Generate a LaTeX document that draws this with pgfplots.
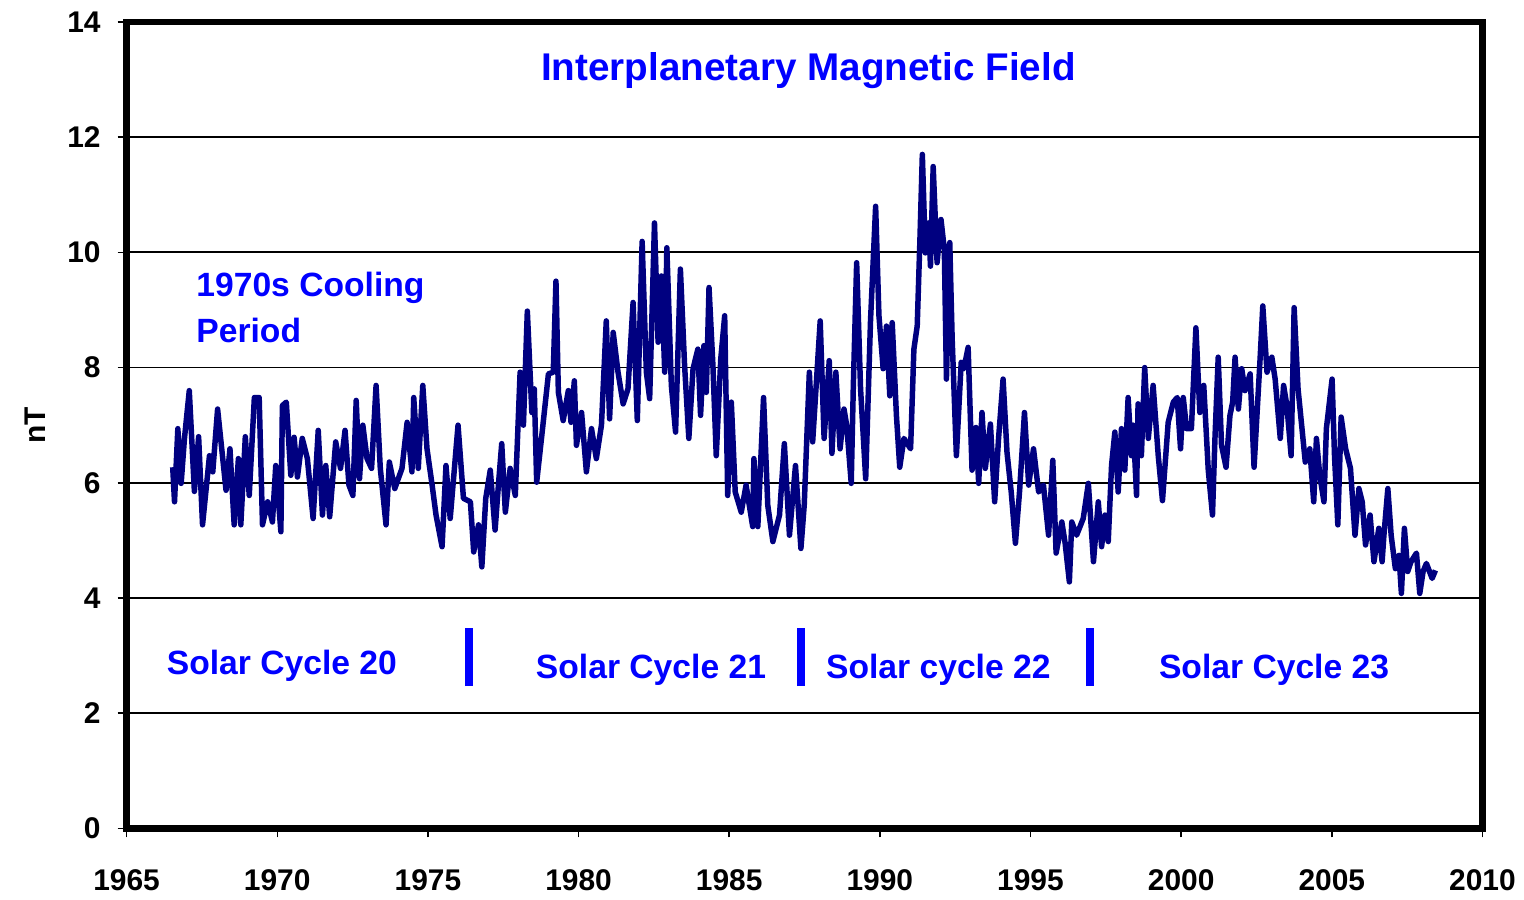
\documentclass[border=0pt]{standalone}
\usepackage{fontspec}
\setmainfont{Liberation Sans}
\usepackage{pgfplots}
\pgfplotsset{compat=1.18}
\definecolor{imfnavy}{RGB}{0,0,128}
\definecolor{imfblue}{RGB}{0,0,255}

\pgfplotstableread{
year imf
1966.53 6.27
1966.59 5.67
1966.70 6.94
1966.81 5.99
1966.92 6.77
1967.08 7.60
1967.25 5.85
1967.39 6.80
1967.52 5.27
1967.75 6.47
1967.86 6.19
1968.02 7.28
1968.30 5.87
1968.43 6.59
1968.57 5.27
1968.71 6.42
1968.79 5.27
1968.94 6.80
1969.07 5.78
1969.24 7.48
1969.40 7.48
1969.51 5.27
1969.68 5.67
1969.84 5.32
1969.95 6.30
1970.12 5.15
1970.17 7.34
1970.30 7.40
1970.45 6.13
1970.56 6.79
1970.67 6.10
1970.83 6.77
1971.00 6.42
1971.19 5.38
1971.36 6.91
1971.50 5.44
1971.61 6.30
1971.74 5.41
1971.94 6.71
1972.10 6.25
1972.25 6.91
1972.38 5.96
1972.51 5.78
1972.62 7.43
1972.73 6.07
1972.84 7.00
1972.98 6.42
1973.13 6.25
1973.28 7.69
1973.42 6.25
1973.61 5.27
1973.72 6.36
1973.90 5.90
1974.14 6.25
1974.31 7.05
1974.47 6.19
1974.53 7.48
1974.68 6.25
1974.83 7.69
1974.97 6.59
1975.14 5.96
1975.27 5.44
1975.47 4.89
1975.60 6.30
1975.74 5.38
1976.00 7.00
1976.18 5.73
1976.41 5.67
1976.52 4.80
1976.68 5.27
1976.79 4.54
1976.92 5.73
1977.07 6.22
1977.23 5.18
1977.34 5.96
1977.45 6.68
1977.57 5.49
1977.73 6.25
1977.90 5.78
1978.06 7.92
1978.17 7.00
1978.30 8.98
1978.45 7.22
1978.53 7.63
1978.61 6.01
1978.78 6.82
1979.00 7.89
1979.16 7.92
1979.25 9.50
1979.33 7.57
1979.49 7.08
1979.66 7.60
1979.75 7.05
1979.86 7.77
1979.93 6.65
1980.10 7.22
1980.26 6.19
1980.43 6.94
1980.59 6.42
1980.76 7.00
1980.92 8.81
1981.03 7.11
1981.15 8.61
1981.31 7.92
1981.48 7.37
1981.64 7.63
1981.81 9.13
1981.95 7.08
1982.11 10.19
1982.25 7.92
1982.36 7.46
1982.52 10.51
1982.64 8.44
1982.75 9.59
1982.86 7.92
1982.93 10.08
1983.08 7.69
1983.22 6.88
1983.38 9.71
1983.52 8.03
1983.66 6.77
1983.80 7.98
1983.96 8.32
1984.05 7.17
1984.16 8.38
1984.24 7.57
1984.33 9.39
1984.46 8.03
1984.57 6.47
1984.72 8.15
1984.85 8.90
1984.95 5.78
1985.07 7.40
1985.20 5.84
1985.40 5.49
1985.56 5.96
1985.78 5.24
1985.82 6.42
1985.95 5.24
1986.14 7.48
1986.28 5.61
1986.45 4.98
1986.67 5.44
1986.83 6.68
1987.00 5.09
1987.20 6.30
1987.38 4.86
1987.49 5.61
1987.66 7.92
1987.77 6.71
1988.02 8.81
1988.15 6.77
1988.32 8.12
1988.41 6.51
1988.54 7.92
1988.68 6.59
1988.81 7.28
1988.90 7.00
1989.05 5.99
1989.12 7.69
1989.23 9.82
1989.36 7.63
1989.53 6.07
1989.69 8.81
1989.86 10.80
1989.97 8.90
1990.11 7.98
1990.22 8.72
1990.33 7.51
1990.41 8.78
1990.55 7.17
1990.66 6.27
1990.80 6.77
1991.02 6.59
1991.13 8.32
1991.24 8.72
1991.33 10.22
1991.41 11.70
1991.51 9.99
1991.62 10.51
1991.68 9.76
1991.77 11.49
1991.90 9.82
1992.03 10.57
1992.14 10.05
1992.21 7.80
1992.32 10.17
1992.40 8.50
1992.54 6.47
1992.70 8.09
1992.79 7.98
1992.93 8.35
1993.06 6.22
1993.19 6.96
1993.28 5.99
1993.39 7.22
1993.50 6.25
1993.67 7.02
1993.81 5.67
1993.94 6.77
1994.09 7.80
1994.22 6.53
1994.36 5.84
1994.50 4.95
1994.64 5.87
1994.80 7.22
1994.94 5.96
1995.10 6.59
1995.27 5.84
1995.43 5.96
1995.60 5.09
1995.74 6.39
1995.85 4.78
1996.04 5.32
1996.15 4.95
1996.29 4.28
1996.37 5.32
1996.53 5.09
1996.75 5.38
1996.92 5.99
1997.09 4.63
1997.25 5.67
1997.36 4.89
1997.47 5.44
1997.58 4.98
1997.69 6.30
1997.80 6.88
1997.91 5.84
1998.02 6.94
1998.13 6.22
1998.24 7.48
1998.35 6.47
1998.41 7.00
1998.52 5.78
1998.57 7.37
1998.68 6.47
1998.79 8.00
1998.91 6.77
1999.07 7.69
1999.24 6.47
1999.38 5.69
1999.57 7.05
1999.74 7.40
1999.87 7.48
1999.98 6.59
2000.07 7.48
2000.18 6.94
2000.34 6.94
2000.49 8.69
2000.62 7.22
2000.75 7.69
2000.90 6.22
2001.04 5.44
2001.12 6.74
2001.23 8.18
2001.34 6.65
2001.49 6.27
2001.62 7.17
2001.71 7.40
2001.79 8.18
2001.90 7.28
2002.01 7.98
2002.12 7.60
2002.29 7.89
2002.42 6.27
2002.54 7.40
2002.62 8.15
2002.71 9.07
2002.85 7.92
2003.01 8.18
2003.12 7.80
2003.29 6.77
2003.40 7.69
2003.51 7.34
2003.65 6.47
2003.75 9.04
2003.88 7.63
2003.99 7.05
2004.12 6.36
2004.27 6.59
2004.40 5.67
2004.49 6.77
2004.60 6.13
2004.74 5.67
2004.82 6.94
2005.01 7.80
2005.09 6.47
2005.20 5.27
2005.31 7.14
2005.46 6.59
2005.62 6.25
2005.77 5.09
2005.90 5.90
2006.01 5.67
2006.12 4.92
2006.27 5.44
2006.40 4.63
2006.56 5.21
2006.67 4.63
2006.73 5.09
2006.86 5.90
2006.97 5.09
2007.11 4.51
2007.23 4.74
2007.31 4.08
2007.41 5.21
2007.52 4.46
2007.63 4.63
2007.81 4.78
2007.92 4.08
2008.03 4.46
2008.14 4.60
2008.33 4.34
2008.44 4.48
}\imfdata

\begin{document}
\begin{tikzpicture}
\begin{axis}[
  scale only axis,
  width=544pt, height=323.6pt,
  xmin=1965, xmax=2010, ymin=0, ymax=14,
  xtick={1965,1970,...,2010},
  ytick={0,2,...,14},
  xtick pos=left, ytick pos=left,
  tick align=outside,
  major tick length=3.6pt,
  major tick style={black, line width=0.6pt},
  axis line style={black, line width=2.6pt},
  ymajorgrids,
  major grid style={black, line width=0.7pt},
  /pgf/number format/assume math mode=true,
  /pgf/number format/set thousands separator={},
  tick label style={font=\bfseries\fontsize{12}{14}\selectfont},
  yticklabel style={xshift=-3.3pt},
  xticklabel style={yshift=-9.5pt},
  ylabel={nT},
  ylabel style={at={(axis description cs:-0.0676,0.5)}, anchor=center, rotate=0,
    font=\bfseries\fontsize{12}{14}\selectfont},
]
\addplot[imfnavy, line width=2.2pt, line join=round, mark=none] table[x=year, y=imf] {\imfdata};

% cycle boundaries
\addplot[imfblue, line width=3.2pt, forget plot] coordinates {(1976.35,2.47)(1976.35,3.48)};
\addplot[imfblue, line width=3.2pt, forget plot] coordinates {(1987.37,2.47)(1987.37,3.48)};
\addplot[imfblue, line width=3.2pt, forget plot] coordinates {(1996.97,2.47)(1996.97,3.48)};

\node[anchor=base, inner sep=0, text=imfblue, font=\bfseries\fontsize{15.5}{18}\selectfont]
  at (axis cs:1987.63,12.98) {Interplanetary Magnetic Field};
\node[anchor=base west, inner sep=0, text=imfblue, font=\bfseries\fontsize{13.5}{16}\selectfont]
  at (axis cs:1967.30,9.24) {1970s Cooling};
\node[anchor=base west, inner sep=0, text=imfblue, font=\bfseries\fontsize{13.5}{16}\selectfont]
  at (axis cs:1967.30,8.43) {Period};
\node[anchor=base west, inner sep=0, text=imfblue, font=\bfseries\fontsize{13.5}{16}\selectfont]
  at (axis cs:1966.32,2.68) {Solar Cycle 20};
\node[anchor=base west, inner sep=0, text=imfblue, font=\bfseries\fontsize{13.5}{16}\selectfont]
  at (axis cs:1978.57,2.60) {Solar Cycle 21};
\node[anchor=base west, inner sep=0, text=imfblue, font=\bfseries\fontsize{13.5}{16}\selectfont]
  at (axis cs:1988.20,2.60) {Solar cycle 22};
\node[anchor=base west, inner sep=0, text=imfblue, font=\bfseries\fontsize{13.5}{16}\selectfont]
  at (axis cs:1999.25,2.60) {Solar Cycle 23};
\end{axis}
\path ([xshift=-50.8pt,yshift=-26.4pt]current axis.south west)
      ([xshift=14.8pt,yshift=8.8pt]current axis.north east);
\end{tikzpicture}
\end{document}
